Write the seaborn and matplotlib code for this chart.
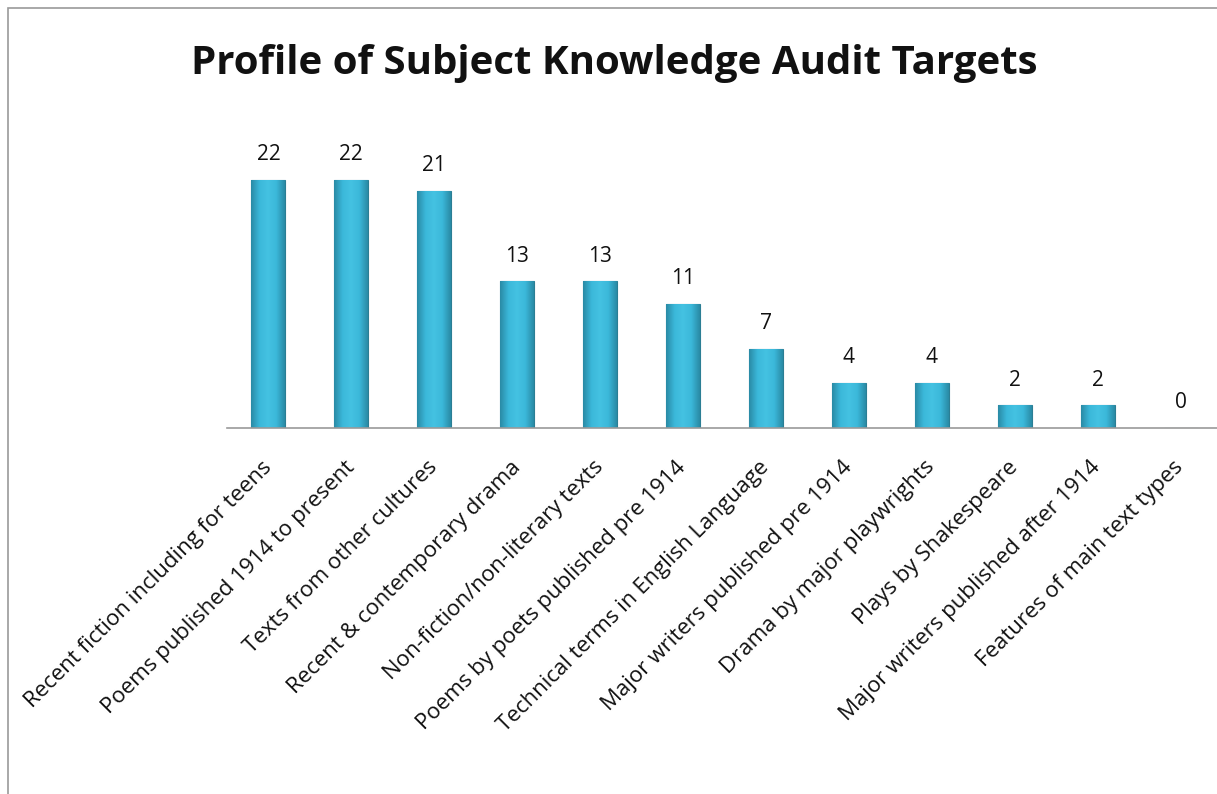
import numpy as np
import pandas as pd
import matplotlib
matplotlib.use("Agg")
import matplotlib.pyplot as plt
from matplotlib.colors import LinearSegmentedColormap
from matplotlib.patches import Rectangle
import seaborn as sns

# Chart data
categories = [
    "Recent fiction including for teens",
    "Poems published 1914 to present",
    "Texts from other cultures",
    "Recent & contemporary drama",
    "Non-fiction/non-literary texts",
    "Poems by poets published pre 1914",
    "Technical terms in English Language",
    "Major writers published pre 1914",
    "Drama by major playwrights",
    "Plays by Shakespeare",
    "Major writers published after 1914",
    "Features of main text types",
]
counts = [22, 22, 21, 13, 13, 11, 7, 4, 4, 2, 2, 0]

df = pd.DataFrame({"target": categories, "count": counts})

sns.set_style("white")
plt.rcParams["font.family"] = ["Open Sans", "DejaVu Sans"]

fig = plt.figure(figsize=(12.17, 7.94), dpi=100)
ax = fig.add_axes([227 / 1217, 1 - 428 / 794, 995 / 1217, 282 / 794])

sns.barplot(data=df, x="target", y="count", color="#35B0D2", width=0.41,
            edgecolor="#2B7E94", linewidth=0.8, ax=ax)

# horizontal gradient on each bar (darker at the edges)
cmap = LinearSegmentedColormap.from_list(
    "bar", ["#2A8BA6", "#3BB8DA", "#44C2E2", "#3BB8DA", "#2A8BA6"])
grad = np.linspace(0, 1, 64).reshape(1, -1)
for p in ax.patches:
    if p.get_height() <= 0:
        continue
    x0, w, h = p.get_x(), p.get_width(), p.get_height()
    im = ax.imshow(grad, cmap=cmap, aspect="auto",
                   extent=(x0, x0 + w, 0, h), zorder=p.get_zorder() + 0.1)
    im.set_clip_path(p)

ax.set_xlim(-0.5, len(categories) - 0.5)
ax.set_ylim(0, 25)

# value labels
for i, v in enumerate(counts):
    ax.text(i, v + 1.3, str(v), ha="center", va="bottom", fontsize=15, color="#111111")

ax.set_xlabel("")
ax.set_ylabel("")
ax.set_yticks([])
ax.set_xticks(range(len(categories)))
ax.set_xticklabels(categories, rotation=45, ha="right", va="center",
                   rotation_mode="anchor", fontsize=16, color="#111111")
ax.tick_params(axis="x", length=0, pad=26)
for side in ["top", "left", "right"]:
    ax.spines[side].set_visible(False)
ax.spines["bottom"].set_color("#9A9A9A")
ax.spines["bottom"].set_linewidth(1.2)

fig.suptitle("Profile of Subject Knowledge Audit Targets", x=0.505, y=0.945,
             fontsize=29, fontweight="bold", color="#111111")

# chart frame
fig.patches.append(Rectangle((8 / 1217, -0.01), 1.0, 1 - 8 / 794 + 0.01,
                             transform=fig.transFigure, fill=False,
                             edgecolor="#9A9A9A", linewidth=1.2))

fig.savefig("out.png", dpi=100)
